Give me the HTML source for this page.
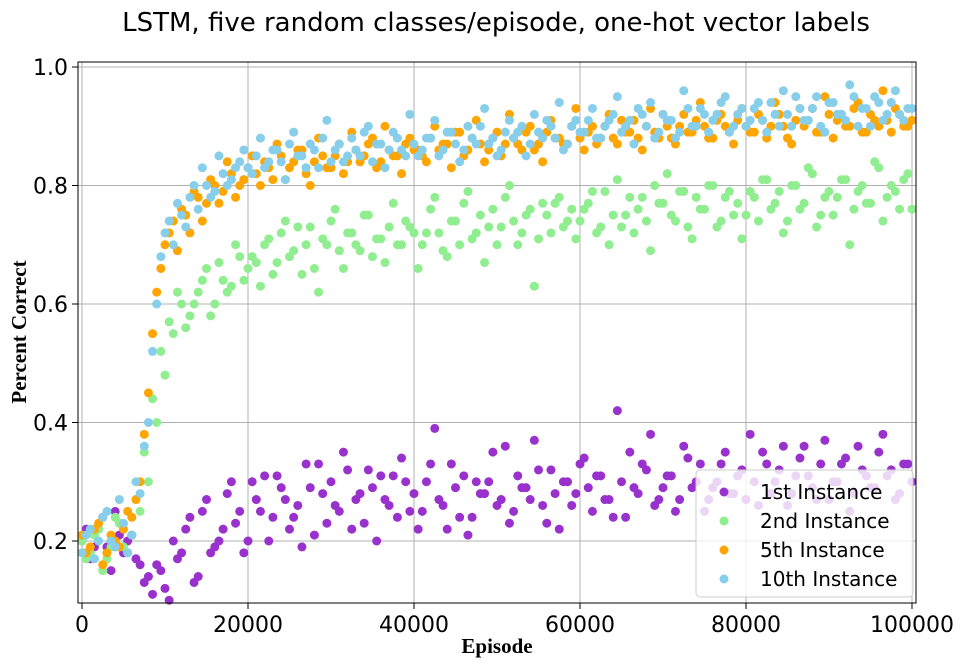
<!DOCTYPE html>
<html><head><meta charset="utf-8"><style>
body{margin:0;background:#fff;}
svg{display:block;}
text{font-family:"DejaVu Sans","Liberation Sans",sans-serif;}
</style></head><body>
<svg id="chart" width="961" height="665" xmlns="http://www.w3.org/2000/svg">
<text x="496" y="31" font-size="26" text-anchor="middle">LSTM, five random classes/episode, one-hot vector labels</text>
<g id="grid"></g>
<g id="marks"></g>
<rect x="78" y="62" width="838" height="541" fill="none" stroke="#000" stroke-width="1"/>
<g id="ticks"></g>
<text transform="translate(26,332) rotate(-90)" font-size="21" font-weight="bold" text-anchor="middle" style="font-family:'Liberation Serif',serif">Percent Correct</text>
<text x="497" y="653" font-size="21" font-weight="bold" text-anchor="middle" style="font-family:'Liberation Serif',serif">Episode</text>
<g id="legend">
<rect x="696" y="470" width="217" height="127" rx="4" fill="#fff" fill-opacity="0.8" stroke="#ccc"/>
</g>
</svg>
<script>
const episodes = Array.from({length:101},(_,i)=>i*1000);
const episodesHalf = Array.from({length:100},(_,i)=>i*1000+500);
const seriesNames = ["1st Instance","2nd Instance","5th Instance","10th Instance"];
const first = [.20,.17,.22,.19,.25,.18,.21,.16,.14,
.16,.12,.20,.18,.24,.14,.27,.19,.22,.30,.25,.20,
.27,.31,.24,.29,.22,.26,.33,.21,.28,.30,.25,.32,.27,.23,.29,.31,.26,.24,.30,.28,
.25,.33,.27,.22,.29,.31,.24,.28,.30,.26,.36,.25,.29,.27,.32,.23,.28,.30,.26,.33,
.29,.31,.27,.24,.30,.35,.28,.32,.26,.29,.31,.27,.34,.30,.25,.29,.33,.28,.31,.27,
.30,.35,.28,.32,.26,.31,.36,.29,.33,.27,.30,.34,.28,.32,.29,.35,.31,.27,.33,.30];
const firstHalf = [.22,.19,.24,.15,.21,.20,.17,.13,.11,.15,.10,.17,.22,.13,.25,.18,.20,.28,.23,.18,
.30,.25,.20,.31,.27,.24,.19,.29,.33,.23,.26,.35,.22,.28,.32,.20,.27,.31,.34,.25,
.22,.30,.39,.26,.33,.24,.21,.30,.28,.35,.27,.23,.31,.29,.37,.26,.32,.22,.30,.28,
.34,.25,.31,.27,.42,.24,.29,.33,.38,.27,.31,.25,.36,.29,.33,.27,.30,.35,.28,.32,
.38,.26,.33,.30,.36,.28,.34,.31,.27,.37,.30,.33,.25,.36,.31,.29,.38,.32,.28,.33];
const second = [.20,.18,.22,.17,.24,.19,.21,.25,.30,
.40,.48,.55,.60,.58,.62,.66,.60,.64,.63,.68,.66,
.67,.70,.65,.72,.68,.73,.70,.66,.71,.74,.69,.72,.70,.75,.68,.71,.73,.70,.74,.72,
.70,.76,.72,.68,.74,.77,.71,.75,.73,.70,.78,.74,.72,.76,.71,.75,.77,.73,.76,.74,
.77,.72,.79,.75,.73,.78,.76,.74,.80,.77,.75,.79,.73,.78,.76,.80,.74,.79,.77,.75,
.78,.81,.76,.79,.74,.80,.77,.82,.75,.79,.78,.81,.76,.80,.77,.83,.78,.79,.81,.76];
const secondHalf = [.17,.21,.15,.19,.23,.18,.27,.35,.44,.52,.57,.62,.56,.60,.64,.58,.67,.62,.70,.64,
.68,.63,.71,.67,.74,.69,.65,.73,.62,.70,.76,.66,.72,.69,.75,.71,.67,.77,.70,.73,
.66,.72,.78,.69,.74,.70,.79,.72,.67,.76,.73,.80,.70,.75,.63,.77,.72,.78,.74,.71,
.76,.79,.73,.70,.81,.75,.72,.78,.69,.77,.82,.74,.79,.71,.76,.80,.73,.78,.75,.71,
.79,.74,.81,.77,.72,.80,.76,.83,.73,.78,.75,.81,.70,.79,.77,.84,.74,.80,.76,.82];
const fifth = [.21,.19,.23,.18,.20,.22,.24,.30,.45,
.62,.70,.74,.76,.72,.78,.77,.80,.79,.82,.80,.83,
.82,.84,.81,.85,.83,.86,.82,.84,.85,.83,.87,.84,.86,.85,.88,.84,.86,.85,.87,.86,
.85,.88,.86,.87,.89,.85,.88,.87,.86,.89,.87,.88,.86,.90,.87,.89,.88,.87,.90,.88,
.89,.87,.90,.88,.91,.89,.88,.90,.89,.92,.88,.90,.89,.91,.90,.88,.92,.89,.91,.90,
.89,.91,.90,.92,.88,.91,.90,.93,.89,.92,.91,.90,.93,.89,.92,.90,.91,.93,.90,.91];
const fifthHalf = [.18,.22,.16,.21,.19,.25,.27,.38,.55,.66,.72,.69,.75,.79,.74,.81,.77,.84,.78,.81,
.85,.80,.83,.87,.81,.84,.86,.80,.88,.83,.85,.82,.89,.84,.87,.83,.90,.85,.82,.88,
.86,.84,.90,.87,.83,.89,.86,.91,.84,.88,.85,.92,.87,.89,.86,.84,.91,.88,.87,.93,
.86,.90,.88,.92,.87,.89,.91,.86,.93,.88,.90,.87,.92,.89,.94,.88,.91,.90,.87,.93,
.89,.92,.88,.94,.90,.87,.93,.91,.89,.95,.88,.92,.90,.94,.89,.91,.96,.89,.92,.90];
const tenth = [.18,.22,.20,.25,.19,.23,.21,.28,.40,
.60,.72,.70,.75,.78,.76,.80,.79,.82,.81,.84,.83,
.85,.83,.86,.84,.87,.85,.83,.86,.88,.84,.87,.85,.86,.89,.84,.87,.86,.88,.85,.87,
.86,.88,.85,.89,.87,.86,.88,.90,.87,.85,.89,.88,.90,.87,.89,.91,.88,.86,.90,.89,
.91,.88,.90,.92,.89,.91,.93,.90,.88,.92,.91,.89,.93,.90,.92,.91,.94,.89,.92,.90,
.93,.91,.94,.90,.92,.95,.91,.93,.90,.94,.92,.91,.95,.93,.90,.94,.92,.96,.91,.93];
const tenthHalf = [.21,.17,.24,.20,.27,.18,.30,.36,.52,.68,.74,.77,.73,.80,.83,.78,.85,.80,.83,.86,
.82,.88,.84,.86,.81,.89,.85,.87,.83,.91,.86,.84,.88,.85,.90,.87,.83,.89,.86,.92,
.85,.88,.91,.86,.89,.84,.90,.87,.93,.88,.86,.91,.89,.85,.92,.88,.90,.94,.87,.91,
.89,.93,.88,.91,.95,.90,.87,.92,.94,.89,.91,.88,.96,.90,.93,.89,.92,.95,.90,.93,
.91,.94,.89,.92,.96,.90,.93,.91,.95,.89,.94,.92,.97,.90,.93,.95,.91,.94,.92,.93];
const xTicks = [0,20000,40000,60000,80000,100000];
const yTicks = [0.2,0.4,0.6,0.8,1.0];

const NS="http://www.w3.org/2000/svg";
const colors=["#9932CC","#90EE90","#FFA500","#87CEEB"];
const allSeries=[first,second,fifth,tenth];
const allHalf=[firstHalf,secondHalf,fifthHalf,tenthHalf];
function xs(v){return 82+v*(912-82)/100000;}
function ys(v){return 541-(v-0.2)*(541-67)/0.8;}
function mk(tag,attrs,parent){const e=document.createElementNS(NS,tag);for(const k in attrs)e.setAttribute(k,attrs[k]);parent.appendChild(e);return e;}
const grid=document.getElementById('grid'),ticks=document.getElementById('ticks'),marks=document.getElementById('marks'),legend=document.getElementById('legend');
xTicks.forEach(t=>{
  const l=mk('line',{x1:xs(t),x2:xs(t),y1:62,y2:603,stroke:'#b0b0b0','stroke-width':1},grid);
  
  
  mk('line',{x1:xs(t),x2:xs(t),y1:603,y2:609,stroke:'#000'},ticks);
  const tx=mk('text',{x:xs(t),y:632,'font-size':22,'text-anchor':'middle'},ticks);
  tx.textContent=t;
  
  
});
yTicks.forEach(t=>{
  const l=mk('line',{x1:78,x2:916,y1:ys(t),y2:ys(t),stroke:'#b0b0b0','stroke-width':1},grid);
  
  
  mk('line',{x1:72,x2:78,y1:ys(t),y2:ys(t),stroke:'#000'},ticks);
  const tx=mk('text',{x:68,y:ys(t)+8,'font-size':22,'text-anchor':'end'},ticks);
  tx.textContent=t.toFixed(1);
  
  
});
allSeries.forEach((s,si)=>{
  s.forEach((v,i)=>{
    const c=mk('circle',{cx:xs(episodes[i]),cy:ys(v),r:4.5,fill:colors[si]},marks);
    
    
  });
  allHalf[si].forEach((v,i)=>{
    const c=mk('circle',{cx:xs(episodesHalf[i]),cy:ys(v),r:4.5,fill:colors[si]},marks);
    
    
  });
});
seriesNames.forEach((n,i)=>{
  const y=492+i*29;
  const c=mk('circle',{cx:724,cy:y,r:4.5,fill:colors[i]},legend);
  
  
  const t=mk('text',{x:760,y:y+7,'font-size':20},legend);
  t.textContent=n;
  
  
});
</script>
</body></html>
